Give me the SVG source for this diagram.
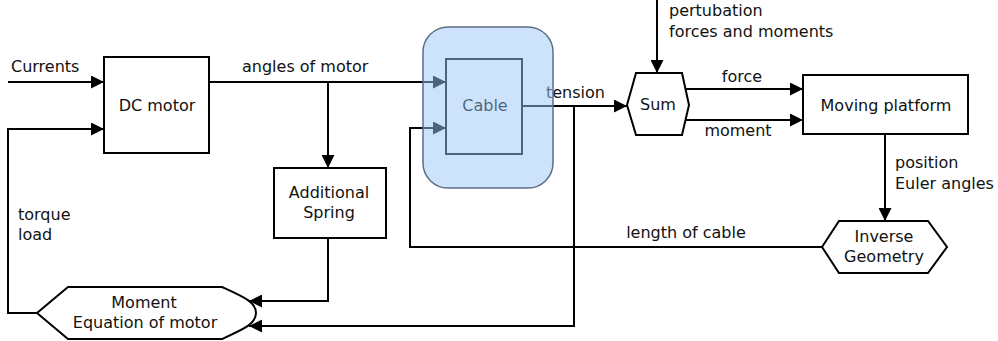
<svg xmlns="http://www.w3.org/2000/svg" width="998" height="341" viewBox="0 0 998 341">
<style>
.box{fill:#ffffff;stroke:#000;stroke-width:2}
.ln{fill:none;stroke:#000;stroke-width:2}
text{font-family:"DejaVu Sans","Liberation Sans",sans-serif;font-size:16px;fill:#111}
.c{text-anchor:middle}
</style>
<defs>
<marker id="ah" viewBox="0 0 10 10" refX="10" refY="5" markerWidth="14" markerHeight="13" markerUnits="userSpaceOnUse" orient="auto">
<path d="M0,0 L10,5 L0,10 z" fill="#000"/>
</marker>
</defs>
<rect width="998" height="341" fill="#fff"/>
<g id="connectors">
<path class="ln" d="M8,82 L104,82" marker-end="url(#ah)"/>
<path class="ln" d="M37,313 L8,313 L8,129 L104,129" marker-end="url(#ah)"/>
<path class="ln" d="M209,82 L446,82" marker-end="url(#ah)"/>
<path class="ln" d="M328,82 L328,168" marker-end="url(#ah)"/>
<path class="ln" d="M328,238 L328,301 L249,301" marker-end="url(#ah)"/>
<path class="ln" d="M522,106 L627,106" marker-end="url(#ah)"/>
<path class="ln" d="M574,106 L574,326 L249,326" marker-end="url(#ah)"/>
<path class="ln" d="M657,0 L657,73" marker-end="url(#ah)"/>
<path class="ln" d="M684,89 L803,89" marker-end="url(#ah)"/>
<path class="ln" d="M686,120 L803,120" marker-end="url(#ah)"/>
<path class="ln" d="M885,134 L885,221" marker-end="url(#ah)"/>
<path class="ln" d="M822,247 L410,247 L410,128 L446,128" marker-end="url(#ah)"/>
<text x="11" y="72">Currents</text>
<text x="242" y="72">angles of motor</text>
<text x="18" y="220">torque</text>
<text x="18" y="240">load</text>
<text x="546" y="98">tension</text>
<text x="669" y="16">pertubation</text>
<text x="669" y="37">forces and moments</text>
<text class="c" x="742" y="82">force</text>
<text class="c" x="738" y="136">moment</text>
<text x="895" y="168">position</text>
<text x="895" y="189">Euler angles</text>
<text class="c" x="686" y="238">length of cable</text>
</g>
<g id="dc-motor">
<rect class="box" x="104" y="57" width="105" height="96"/>
<text class="c" x="157" y="111">DC motor</text>
</g>
<g id="additional-spring">
<rect class="box" x="274" y="168" width="112" height="70"/>
<text class="c" x="329" y="198">Additional</text>
<text class="c" x="329" y="218">Spring</text>
</g>
<g id="moment-equation">
<path class="box" d="M37,313 L68,287 L222,287 C244,297 256,302 256,313 C256,324 244,329 222,339 L68,339 Z"/>
<text class="c" x="144" y="308">Moment</text>
<text class="c" x="145" y="328">Equation of motor</text>
</g>
<g id="sum">
<path class="box" d="M627,105 L636,73 L682,73 L689,105 L682,135 L636,135 Z"/>
<text class="c" x="658" y="110">Sum</text>
</g>
<g id="moving-platform">
<rect class="box" x="803" y="75" width="165" height="59"/>
<text class="c" x="886" y="111">Moving platform</text>
</g>
<g id="inverse-geometry">
<path class="box" d="M822,247 L839,221 L928,221 L947,247 L928,273 L839,273 Z"/>
<text class="c" x="884" y="242">Inverse</text>
<text class="c" x="884" y="262">Geometry</text>
</g>
<g id="cable">
<rect class="box" x="446" y="59" width="76" height="95"/>
<text class="c" x="485" y="111" style="fill:#000">Cable</text>
<rect x="423" y="27" width="130" height="161" rx="25" ry="25" fill="rgb(155,200,250)" fill-opacity="0.5" stroke="#5c6f84" stroke-width="1.5"/>
</g>
</svg>
